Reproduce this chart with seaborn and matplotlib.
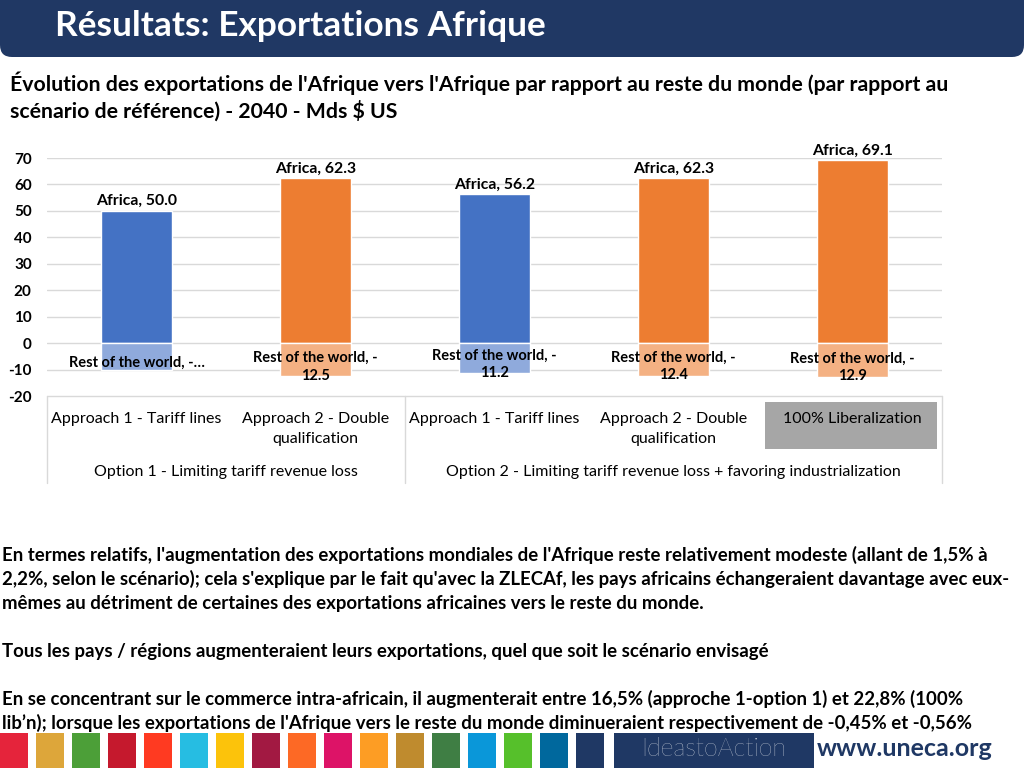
import matplotlib
matplotlib.use("Agg")
import matplotlib.pyplot as plt
from matplotlib.patches import FancyBboxPatch, Rectangle
from matplotlib.lines import Line2D
import pandas as pd
import seaborn as sns

scenarios = ["A1O1", "A2O1", "A1O2", "A2O2", "LIB"]
africa = [50.0, 62.3, 56.2, 62.3, 69.1]
rest_world = [-10.3, -12.5, -11.2, -12.4, -12.9]
africa_labels = ["Africa, 50.0", "Africa, 62.3", "Africa, 56.2", "Africa, 62.3", "Africa, 69.1"]
rest_labels = ["Rest of the world, -…", "Rest of the world, -\n12.5", "Rest of the world, -\n11.2",
               "Rest of the world, -\n12.4", "Rest of the world, -\n12.9"]
approach_labels = ["Approach 1 - Tariff lines", "Approach 2 - Double\nqualification",
                   "Approach 1 - Tariff lines", "Approach 2 - Double\nqualification",
                   "100% Liberalization"]
option_labels = ["Option 1 - Limiting tariff revenue loss",
                 "Option 2 - Limiting tariff revenue loss + favoring industrialization"]
yticks = [-20, -10, 0, 10, 20, 30, 40, 50, 60, 70]

africa_colors = ["#4472C4", "#ED7D31", "#4472C4", "#ED7D31", "#ED7D31"]
rest_colors = ["#8FAADC", "#F4B183", "#8FAADC", "#F4B183", "#F4B183"]
sdg_colors = ["#E5243B", "#DDA63A", "#4C9F38", "#C5192D", "#FF3A21", "#26BDE2", "#FCC30B",
              "#A21942", "#FD6925", "#DD1367", "#FD9D24", "#BF8B2E", "#3F7E44", "#0A97D9",
              "#56C02B", "#00689D", "#1F3864"]

title = "Résultats: Exportations Afrique"
subtitle = ("Évolution des exportations de l'Afrique vers l'Afrique par rapport au reste du monde (par rapport au\n"
            "scénario de référence) - 2040 - Mds $ US")
body = [
    "En termes relatifs, l'augmentation des exportations mondiales de l'Afrique reste relativement modeste (allant de 1,5% à",
    "2,2%, selon le scénario); cela s'explique par le fait qu'avec la ZLECAf, les pays africains échangeraient davantage avec eux-",
    "mêmes au détriment de certaines des exportations africaines vers le reste du monde.",
    "",
    "Tous les pays / régions augmenteraient leurs exportations, quel que soit le scénario envisagé",
    "",
    "En se concentrant sur le commerce intra-africain, il augmenterait entre 16,5% (approche 1-option 1) et 22,8% (100%",
    "lib’n); lorsque les exportations de l'Afrique vers le reste du monde diminueraient respectivement de -0,45% et -0,56%",
]

sns.set_theme(style="white")
plt.rcParams["font.family"] = ["Lato", "DejaVu Sans"]
plt.rcParams["text.color"] = "black"
plt.rcParams["ytick.color"] = "black"

df = pd.DataFrame({"scenario": scenarios, "africa": africa, "rest": rest_world})

W, H = 1024, 768
fig = plt.figure(figsize=(10.24, 7.68), dpi=100)
fig.patch.set_facecolor("white")

def fx(px):
    return px / W

def fy(py):
    return 1 - py / H

# header band
hdr = FancyBboxPatch((0, 7.68 - 0.57), 10.24, 0.8, boxstyle="round,pad=0,rounding_size=0.12",
                     transform=fig.dpi_scale_trans, facecolor="#203864", edgecolor="none")
fig.patches.append(hdr)
fig.text(fx(55), fy(26), title, color="white", fontsize=25.4, fontweight="bold", va="center", ha="left")
fig.text(fx(10), fy(97), subtitle, fontsize=15.3, fontweight="bold", va="center", ha="left",
         linespacing=1.3)

# chart
ax = fig.add_axes([fx(47), fy(396), fx(942) - fx(47), (396 - 158) / H])
sns.barplot(data=df, x="scenario", y="africa", hue="scenario", palette=africa_colors,
            width=0.4, legend=False, ax=ax, saturation=1, zorder=3)
sns.barplot(data=df, x="scenario", y="rest", hue="scenario", palette=rest_colors,
            width=0.4, legend=False, ax=ax, saturation=1, zorder=3)
ax.set_ylim(-20, 70)
ax.set_xlim(-0.5, 4.5)
ax.set_yticks(yticks)
ax.set_yticklabels([str(v) for v in yticks], fontsize=11, fontweight="bold")
ax.tick_params(axis="y", length=0, pad=11)
ax.set_xticks([])
ax.set_xlabel("")
ax.set_ylabel("")
for s in ax.spines.values():
    s.set_visible(False)
for v in yticks[1:]:
    ax.axhline(v, color="#D9D9D9", lw=1, zorder=1)

for i in range(len(scenarios)):
    ax.annotate(africa_labels[i], (i, africa[i]), xytext=(0, 2), textcoords="offset points",
                ha="center", va="bottom", fontsize=11.3, fontweight="bold", annotation_clip=False)
    ax.text(i, rest_world[i] * 0.72, rest_labels[i], ha="center", va="center", fontsize=10.5,
            fontweight="bold", linespacing=1.3, zorder=4)

# category table
tr = ax.get_xaxis_transform()
def ay(py):
    return (396 - py) / 238

ax.add_patch(Rectangle((fx(765), fy(449)), fx(937) - fx(765), (449 - 402) / H,
                       transform=fig.transFigure, facecolor="#A6A6A6", edgecolor="none",
                       zorder=0, clip_on=False))
for i, lab in enumerate(approach_labels):
    for k, ln in enumerate(lab.split("\n")):
        ax.text(i, ay(419 + 20 * k), ln, transform=tr, ha="center", va="center", fontsize=11.5,
                clip_on=False, zorder=5)
ax.text(0.5, ay(472), option_labels[0], transform=tr, ha="center", va="center", fontsize=11.5, clip_on=False)
ax.text(3, ay(472), option_labels[1], transform=tr, ha="center", va="center", fontsize=11.5, clip_on=False)

line_c = "#D9D9D9"
fig.add_artist(Line2D([fx(47), fx(942)], [fy(396), fy(396)], color=line_c, lw=1))
for xp in (47, 405, 942):
    fig.add_artist(Line2D([fx(xp), fx(xp)], [fy(396), fy(483)], color=line_c, lw=1))

# body text
for k, ln in enumerate(body):
    if ln:
        fig.text(fx(2), fy(555 + 24 * k), ln, fontsize=13.4, fontweight="bold", va="center", ha="left")

# footer
for k, c in enumerate(sdg_colors):
    fig.patches.append(Rectangle((fx(36 * k), 0), fx(28), 35 / H, transform=fig.transFigure,
                                 facecolor=c, edgecolor="none"))
fig.patches.append(Rectangle((fx(614), 0), fx(200), 35 / H, transform=fig.transFigure,
                             facecolor="#1F3864", edgecolor="none"))
fig.text(fx(714), fy(749), "IdeastoAction", color="white", fontsize=18, ha="center", va="center",
         fontweight="light")
fig.text(fx(905), fy(749), "www.uneca.org", color="#1F3864", fontsize=18, ha="center", va="center",
         fontweight="bold")

fig.savefig("out.png", dpi=100)
